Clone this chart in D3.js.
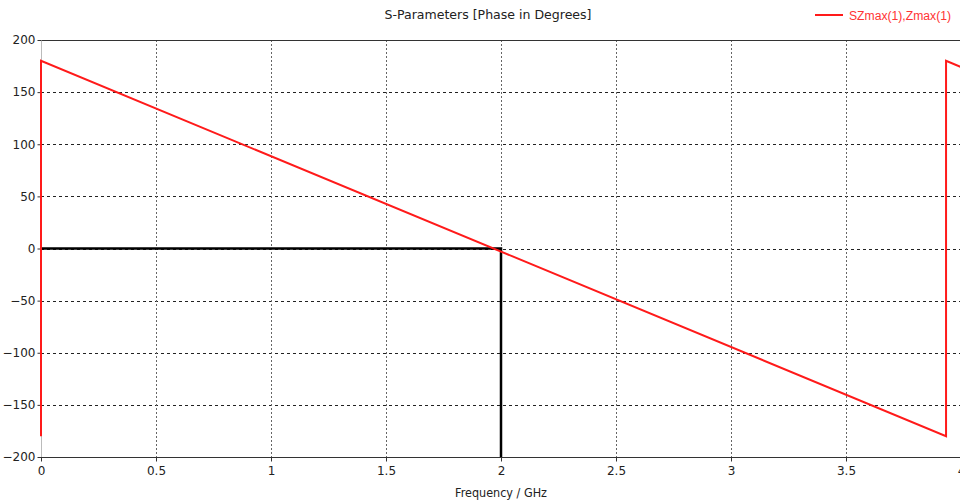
<!DOCTYPE html>
<html><head><meta charset="utf-8">
<script src="https://cdn.jsdelivr.net/npm/d3@7"></script>
<style>body{margin:0;background:#fff}svg{display:block}text{font-family:"DejaVu Sans",Verdana,sans-serif}</style>
</head><body><svg id="c" width="960" height="502"></svg>
<script>
const title = "S-Parameters [Phase in Degrees]";
const xLabel = "Frequency / GHz";
const seriesName = "SZmax(1),Zmax(1)";
const xTicks = [0, 0.5, 1, 1.5, 2, 2.5, 3, 3.5, 4];
const yTicks = [200, 150, 100, 50, 0, -50, -100, -150, -200];
// phase curve (GHz, degrees), with wrap-around jumps
const freq  = [0, 0, 3.935, 3.935, 4.0];
const phase = [-180, 180, -180, 180, 174];
// marker lines
const markerX = [0, 2, 2];
const markerY = [0, 0, -200];

const svg = d3.select("#c");
const x = d3.scaleLinear().domain([0, 4]).range([41, 961]);
const y = d3.scaleLinear().domain([-200, 200]).range([457, 40]);

// grid
const g = svg.append("g");
g.selectAll(".hg").data(yTicks.filter(v => v > -200 && v < 200)).join("line")
  .attr("x1", x(0)).attr("x2", 960).attr("y1", d => Math.round(y(d)) + 0.5).attr("y2", d => Math.round(y(d)) + 0.5)
  .attr("stroke", "#222").attr("stroke-dasharray", "3,3").attr("stroke-width", 1);
g.selectAll(".vg").data(xTicks.filter(v => v > 0 && v < 4)).join("line")
  .attr("y1", y(200)).attr("y2", y(-200)).attr("x1", d => Math.round(x(d)) + 0.5).attr("x2", d => Math.round(x(d)) + 0.5)
  .attr("stroke", "#666").attr("stroke-dasharray", "2,2").attr("stroke-width", 1);

// frame
svg.append("line").attr("x1", x(0)).attr("x2", 960).attr("y1", Math.round(y(200)) + 0.5).attr("y2", Math.round(y(200)) + 0.5).attr("stroke", "#333");
svg.append("line").attr("x1", x(0)).attr("x2", 960).attr("y1", Math.round(y(-200)) + 0.5).attr("y2", Math.round(y(-200)) + 0.5).attr("stroke", "#333");
svg.append("line").attr("x1", Math.round(x(0)) + 0.5).attr("x2", Math.round(x(0)) + 0.5).attr("y1", y(200)).attr("y2", y(-200)).attr("stroke", "#bbb");

// axes
const yAxis = d3.axisLeft(y).tickValues(yTicks).tickSize(4).tickFormat(d3.format("d"));
const ya = svg.append("g").attr("transform", `translate(${Math.round(x(0)) + 0.5},0)`).call(yAxis);
ya.select(".domain").remove();
ya.selectAll("line").attr("stroke", "#333");
ya.selectAll("text").attr("font-size", 12).attr("fill", "#222").attr("x", -6);

const xAxis = d3.axisBottom(x).tickValues(xTicks).tickSize(4).tickFormat(d => d3.format("")(d));
const xa = svg.append("g").attr("transform", `translate(0,${Math.round(y(-200)) + 0.5})`).call(xAxis);
xa.select(".domain").remove();
xa.selectAll("line").attr("stroke", "#333");
xa.selectAll("text").attr("font-size", 12).attr("fill", "#222").attr("dy", "0.9em");

// markers
const mk = d3.line().x((d, i) => x(markerX[i])).y((d, i) => y(markerY[i]));
svg.append("path").attr("d", mk(markerX)).attr("fill", "none").attr("stroke", "#000").attr("stroke-width", 2.5);

// data line
const ln = d3.line().x((d, i) => x(freq[i])).y((d, i) => y(phase[i]));
svg.append("path").attr("d", ln(freq)).attr("fill", "none").attr("stroke", "#ff1a1a").attr("stroke-width", 2);

// title, labels
svg.append("text").attr("x", 488).attr("y", 19).attr("text-anchor", "middle").attr("font-size", 12).attr("fill", "#222")
  .attr("textLength", 207).attr("lengthAdjust", "spacingAndGlyphs").text(title);
svg.append("text").attr("x", 501).attr("y", 497).attr("text-anchor", "middle").attr("font-size", 12).attr("fill", "#222")
  .attr("textLength", 92).attr("lengthAdjust", "spacingAndGlyphs").text(xLabel);

// legend
svg.append("line").attr("x1", 815).attr("x2", 843).attr("y1", 15).attr("y2", 15).attr("stroke", "#ff1a1a").attr("stroke-width", 2);
svg.append("text").attr("x", 849).attr("y", 20).attr("font-size", 12).attr("fill", "#ff3333")
  .style("font-family", "'Liberation Sans', Arial, sans-serif")
  .attr("textLength", 102).attr("lengthAdjust", "spacingAndGlyphs").text(seriesName);
</script></body></html>
